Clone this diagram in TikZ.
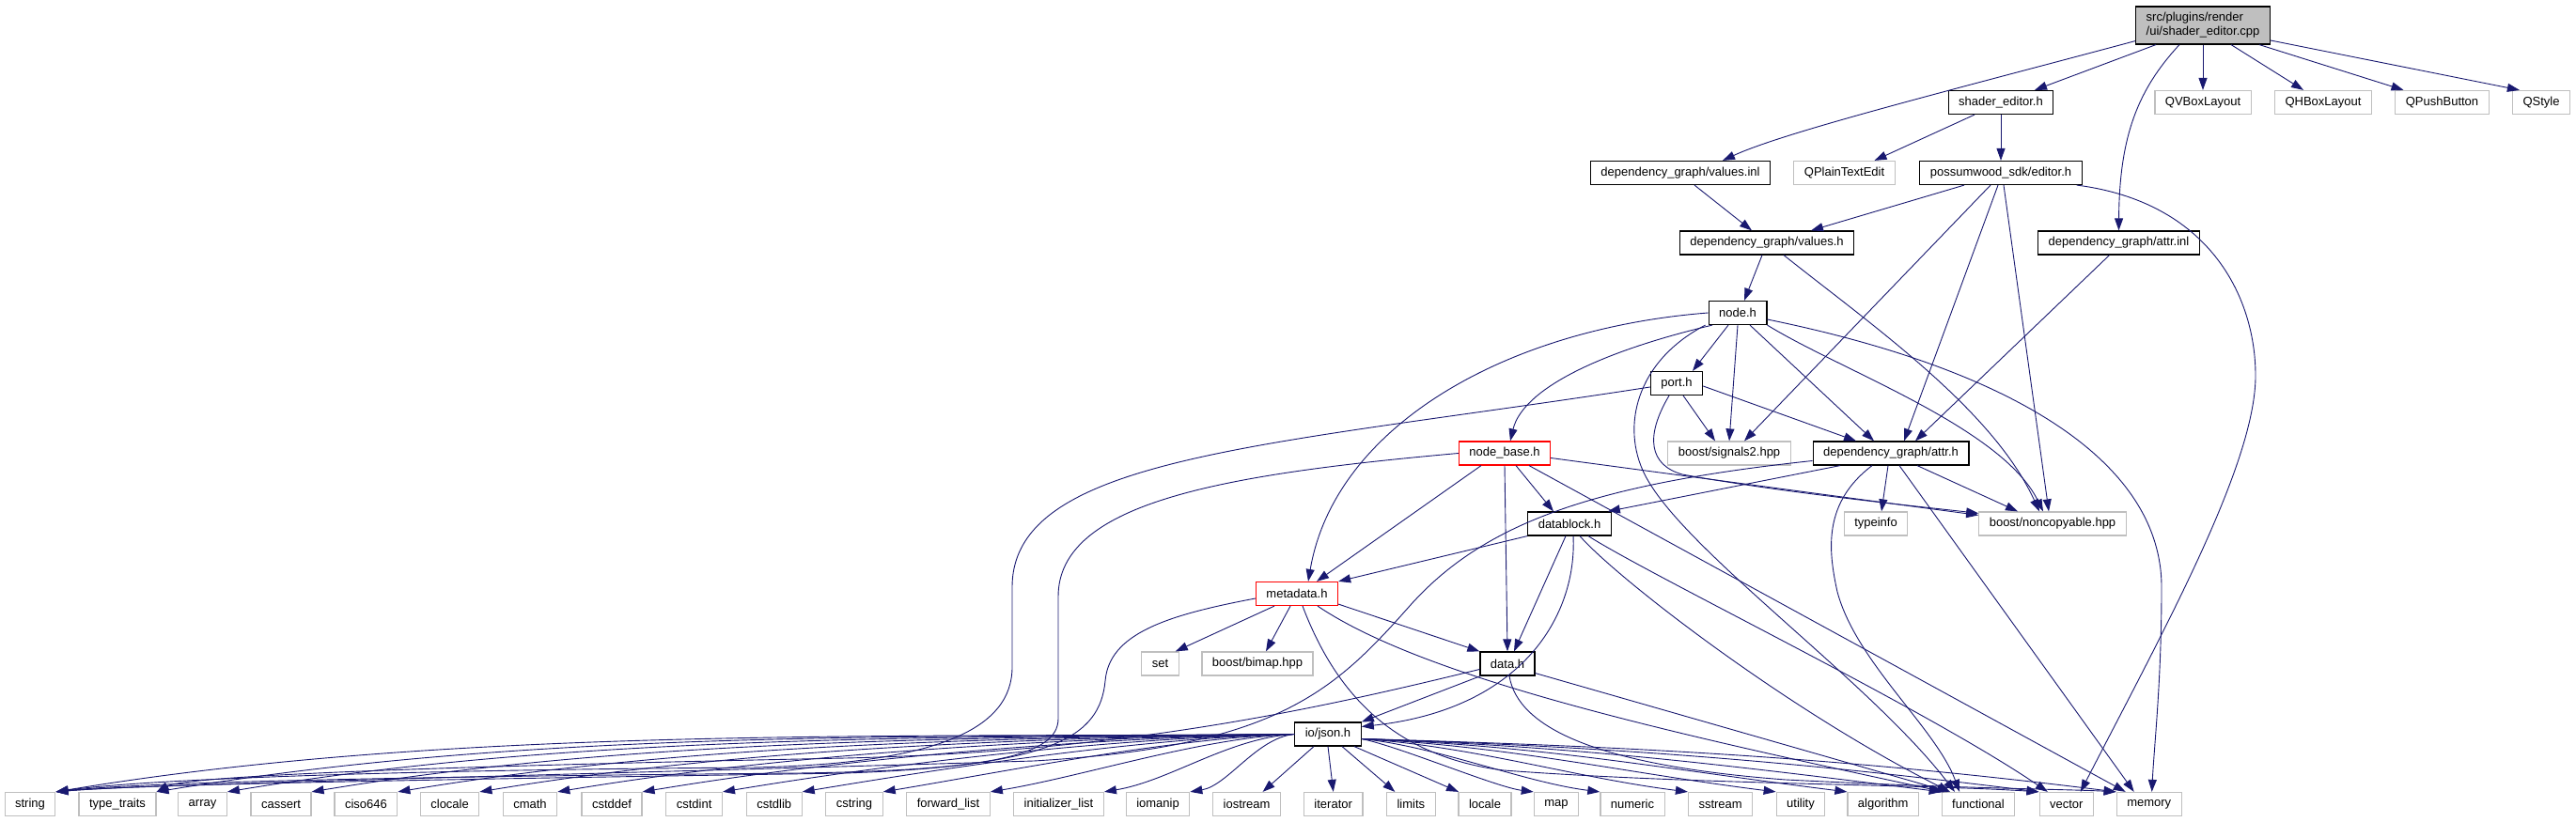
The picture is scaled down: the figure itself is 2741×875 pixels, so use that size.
\documentclass[tikz,border=0pt]{standalone}
\usepackage{fontspec}
\setmainfont{Liberation Sans}
\usepackage{tikz}
\usetikzlibrary{arrows.meta,calc}
\definecolor{edgeblue}{HTML}{191970}
\definecolor{extgray}{HTML}{BFBFBF}

\begin{document}
\begin{tikzpicture}[x=1pt,y=1pt,
  hdr/.style={draw=black, fill=white, line width=1.2pt, inner xsep=11pt, inner ysep=0pt,
    minimum height=25pt, font=\fontsize{13}{15}\selectfont},
  sysh/.style={hdr, draw=extgray},
  redh/.style={hdr, draw=red},
  dep/.style={draw=edgeblue, line width=0.9pt, -{Triangle[length=13pt,width=9pt]}}]
\useasboundingbox (0,0) rectangle (2741,875);

% files of the project
\node[hdr, fill=extgray, align=left, minimum height=40pt] (root) at (2344,848) {src/plugins/render\\/ui/shader\_editor.cpp};
\node[hdr] (shaderh) at (2129,766) {shader\_editor.h};
\node[sysh] (qvbox) at (2344,766) {QVBoxLayout};
\node[sysh] (qhbox) at (2472,766) {QHBoxLayout};
\node[sysh] (qpush) at (2598.5,766) {QPushButton};
\node[sysh] (qstyle) at (2704,766) {QStyle};
\node[hdr] (valuesinl) at (1788,691) {dependency\_graph/values.inl};
\node[sysh] (qplain) at (1962.5,691) {QPlainTextEdit};
\node[hdr] (editorh) at (2129,691) {possumwood\_sdk/editor.h};
\node[hdr] (valuesh) at (1880,616.5) {dependency\_graph/values.h};
\node[hdr] (attrinl) at (2254.5,616.5) {dependency\_graph/attr.inl};
\node[hdr] (nodeh) at (1849,542) {node.h};
\node[hdr] (porth) at (1784,467) {port.h};
\node[redh] (nodebase) at (1601,392.5) {node\_base.h};
\node[sysh] (signals) at (1840,392.5) {boost/signals2.hpp};
\node[hdr] (attrh) at (2012,392.5) {dependency\_graph/attr.h};
\node[hdr] (datablock) at (1670,317.5) {datablock.h};
\node[sysh] (typeinfo) at (1996,317.5) {typeinfo};
\node[sysh] (noncopy) at (2184,317.5) {boost/noncopyable.hpp};
\node[redh] (metadata) at (1380,243) {metadata.h};
\node[sysh] (setn) at (1234.5,168.5) {set};
\node[sysh] (bimap) at (1338,168.5) {boost/bimap.hpp};
\node[hdr] (datah) at (1604,168.5) {data.h};
\node[hdr] (json) at (1413,93.5) {io/json.h};

% standard headers
\foreach \n/\t/\x in {string/string/32, ttraits/type\_traits/125, array/array/215.5,
    cassert/cassert/299, ciso/ciso646/389.4, clocale/clocale/478.6, cmath/cmath/564,
    cstddef/cstddef/651, cstdint/cstdint/738.6, cstdlib/cstdlib/823.7, cstring/cstring/909,
    flist/forward\_list/1009, ilist/initializer\_list/1126.5, iomanip/iomanip/1232,
    iostream/iostream/1326.6, iterator/iterator/1418.7, limits/limits/1501.3,
    locale/locale/1580, map/map/1656, numeric/numeric/1737, sstream/sstream/1830.6,
    utility/utility/1916, algorithm/algorithm/2003.7, functional/functional/2105,
    vector/vector/2198.8, memory/memory/2286.7}
  \node[sysh] (\n) at (\x,19) {\t};

% shader_editor.cpp
\draw[dep] ([yshift=4pt]root.south west) .. controls (2080,780) and (1900,735) .. ([xshift=45pt]valuesinl.north);
\draw[dep] ([xshift=-50pt]root.south) -- ([xshift=36pt]shaderh.north);
\draw[dep] ([xshift=-25pt]root.south) .. controls (2275,780) and (2255,730) .. (attrinl.north);
\draw[dep] (root.south) -- (qvbox.north);
\draw[dep] ([xshift=30pt]root.south) -- ([xshift=-21pt]qhbox.north);
\draw[dep] ([xshift=60pt]root.south) -- ([xshift=-41pt]qpush.north);
\draw[dep] ([yshift=-16pt]root.east) -- ([xshift=8pt]qstyle.north west);
\draw[dep] ([xshift=-28pt]shaderh.south) -- ([xshift=32pt]qplain.north);
\draw[dep] (shaderh.south) -- (editorh.north);
\draw[dep] ([xshift=15pt]valuesinl.south) -- ([xshift=-16pt]valuesh.north);

% editor.h
\draw[dep] ([xshift=-39pt]editorh.south) -- ([xshift=47pt]valuesh.north);
\draw[dep] ([xshift=-11pt]editorh.south) -- ([xshift=16pt]signals.north);
\draw[dep] ([xshift=-3pt]editorh.south) -- ([xshift=14pt]attrh.north);
\draw[dep] ([xshift=3pt]editorh.south) -- ([xshift=-4pt]noncopy.north);
\draw[dep] ([xshift=-6pt]editorh.south east) .. controls (2350,660) and (2400,560) .. (2400,475)
  .. controls (2400,380) and (2300,200) .. ([xshift=15pt]vector.north);

% values.h, attr.inl
\draw[dep] ([xshift=-5pt]valuesh.south) -- ([xshift=7pt]nodeh.north);
\draw[dep] ([xshift=18pt]valuesh.south) .. controls (1990,530) and (2120,440) .. ([xshift=-14pt]noncopy.north);
\draw[dep] ([xshift=-10pt]attrinl.south) -- ([xshift=26pt]attrh.north);

% node.h
\draw[dep] ([xshift=-10pt]nodeh.south) -- ([xshift=17pt]porth.north);
\draw[dep] (nodeh.south) -- (signals.north);
\draw[dep] ([xshift=13pt]nodeh.south) -- ([xshift=-18pt]attrh.north);
\draw[dep] (nodeh.south east) .. controls (1960,480) and (2130,420) .. ([xshift=-10pt]noncopy.north);
\draw[dep] ([yshift=-7pt]nodeh.east) .. controls (2150,480) and (2300,380) .. (2300,250)
  .. controls (2300,150) and (2292,80) .. ([xshift=3pt]memory.north);
\draw[dep] ([xshift=-27pt]nodeh.south) .. controls (1700,500) and (1620,460) .. ([xshift=6pt]nodebase.north);
\draw[dep] (nodeh.west) .. controls (1600,525) and (1420,420) .. ([xshift=12pt]metadata.north);
\draw[dep] ([xshift=-3pt]nodeh.south west) .. controls (1740,490) and (1725,420) .. (1750,370)
  .. controls (1790,290) and (1990,150) .. ([xshift=-25pt]functional.north);

% port.h
\draw[dep] ([xshift=7pt]porth.south) -- ([xshift=-15pt]signals.north);
\draw[dep] ([yshift=-3pt]porth.east) -- ([xshift=-37pt]attrh.north);
\draw[dep] ([xshift=-8pt]porth.south) .. controls (1750,410) and (1755,380) .. (1790,370)
  .. controls (1900,350) and (2050,335) .. ([yshift=-2pt]noncopy.north west);
\draw[dep] ([yshift=-4pt]porth.west) .. controls (1350,400) and (1077,390) .. (1077,250) -- (1077,165)
  .. controls (1077,100) and (1000,62) .. (800,58) .. controls (400,55) and (150,45) .. (string.north east);

% node_base.h
\draw[dep] ([yshift=-5pt]nodebase.east) -- ([yshift=-4pt]noncopy.north west);
\draw[dep] ([xshift=12pt]nodebase.south) -- ([xshift=-17pt]datablock.north);
\draw[dep] (nodebase.south) -- (datah.north);
\draw[dep] ([xshift=-25pt]nodebase.south) -- ([xshift=21pt]metadata.north);
\draw[dep] ([xshift=26pt]nodebase.south) -- ([xshift=-25pt]memory.north);
\draw[dep] (nodebase.west) .. controls (1300,370) and (1126,340) .. (1126,240) -- (1126,110)
  .. controls (1126,70) and (1050,55) .. (850,52) .. controls (400,48) and (150,42) .. (string.north east);

% attr.h
\draw[dep] ([xshift=-54pt]attrh.south) -- ([xshift=-4pt]datablock.north east);
\draw[dep] ([xshift=-3pt]attrh.south) -- ([xshift=6pt]typeinfo.north);
\draw[dep] ([xshift=28pt]attrh.south) -- ([xshift=-37pt]noncopy.north);
\draw[dep] ([xshift=-20pt]attrh.south) .. controls (1940,340) and (1945,290) .. (1955,245)
  .. controls (1975,170) and (2060,100) .. ([xshift=-20pt]functional.north);
\draw[dep] ([xshift=9pt]attrh.south) -- ([xshift=-16pt]memory.north);
\draw[dep] ([yshift=-8pt]attrh.west) .. controls (1700,360) and (1580,320) .. (1500,230)
  .. controls (1420,140) and (1360,80) .. (1100,65) .. controls (600,50) and (150,40) .. (string.north east);

% datablock.h
\draw[dep] (datablock.south west) -- (metadata.north east);
\draw[dep] ([xshift=-4pt]datablock.south) -- ([xshift=7pt]datah.north);
\draw[dep] ([xshift=4pt]datablock.south) .. controls (1678,220) and (1620,120) .. ([yshift=8pt]json.east);
\draw[dep] ([xshift=11pt]datablock.south) .. controls (1720,260) and (1900,120) .. ([xshift=-30pt]functional.north);
\draw[dep] ([xshift=20pt]datablock.south) .. controls (1760,260) and (2050,120) .. ([xshift=-20pt]vector.north);

% metadata.h
\draw[dep] ([xshift=-24pt]metadata.south) -- ([xshift=-4pt]setn.north east);
\draw[dep] ([xshift=-7pt]metadata.south) -- ([xshift=9pt]bimap.north);
\draw[dep] ([yshift=2pt]metadata.south east) -- (datah.north west);
\draw[dep] ([xshift=22pt]metadata.south) .. controls (1520,150) and (1800,90) .. ([xshift=-37pt]functional.north);
\draw[dep] ([xshift=6pt]metadata.south) .. controls (1420,140) and (1480,70) .. (1600,55)
  .. controls (1800,40) and (2050,40) .. (vector.north west);
\draw[dep] ([yshift=-5pt]metadata.west) .. controls (1240,220) and (1180,200) .. (1176,150)
  .. controls (1170,90) and (1120,60) .. (900,52) .. controls (450,45) and (150,40) .. (string.north east);

% data.h
\draw[dep] ([xshift=1pt]datah.south west) -- (json.north east);
\draw[dep] ([yshift=3pt]datah.south east) -- ([xshift=-31pt]functional.north);
\draw[dep] ([xshift=2pt]datah.south) .. controls (1615,100) and (1700,60) .. (1900,45)
  .. controls (2100,35) and (2200,35) .. (memory.north west);
\draw[dep] ([yshift=-6pt]datah.west) .. controls (1400,120) and (1200,75) .. (900,68)
  .. controls (500,60) and (200,50) .. (ttraits.north east);

% io/json.h
\foreach \n/\c in {string/420,ttraits/400,array/370,cassert/340,ciso/310,clocale/280,cmath/250,
    cstddef/220,cstdint/190,cstdlib/160,cstring/130,flist/100,ilist/70,iomanip/40}
  \draw[dep] (json.west) .. controls +(-\c,-4) and +(\c,{\c/6}) .. (\n.north east);
\draw[dep] ([xshift=-15pt]json.south) -- ([xshift=17pt]iostream.north);
\draw[dep] (json.south) -- (iterator.north);
\draw[dep] ([xshift=15pt]json.south) -- ([xshift=-17pt]limits.north);
\draw[dep] ([xshift=28pt]json.south) -- ([xshift=-28pt]locale.north);
\foreach \n/\c in {map/40,numeric/80,sstream/120,utility/160,algorithm/200,functional/230,vector/260,memory/290}
  \draw[dep] ([yshift=-5pt]json.east) .. controls +(\c,-8) and +(-\c,{\c/8}) .. (\n.north west);
\end{tikzpicture}
\end{document}
